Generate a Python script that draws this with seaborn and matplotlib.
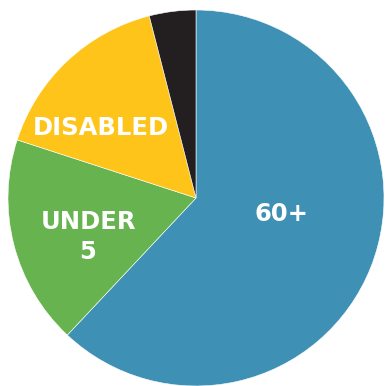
import matplotlib
matplotlib.use("Agg")
import matplotlib.pyplot as plt
import seaborn as sns

# data (shares, clockwise from 12 o'clock)
groups = ["60+", "UNDER\n5", "DISABLED", "OTHER"]
shares = [62, 18, 16, 4]
colors = ["#3f90b5", "#66b34f", "#fec41a", "#231f20"]
label_text = ["60+", "UNDER\n5", "DISABLED", ""]
label_pos = [(0.457, -0.085), (-0.574, -0.207), (-0.505, 0.372), None]

sns.set_style("white")
plt.rcParams['font.family'] = ['DejaVu Sans']

fig = plt.figure(figsize=(3.85, 3.86), dpi=100)
ax = fig.add_axes([0, 0, 1, 1])

ax.pie(shares, colors=colors, startangle=90, counterclock=False, radius=1.0,
       wedgeprops={"edgecolor": "white", "linewidth": 0.4})

for txt, pos in zip(label_text, label_pos):
    if pos is None:
        continue
    ax.text(pos[0], pos[1], txt, color="white", fontsize=17.5, fontweight="bold",
            ha="center", va="center", linespacing=1.3)

# map the circle onto the canvas: centre at (196, 198) px, radius 188 px
r_px = 188.0
ax.set_xlim(-196 / r_px, (385 - 196) / r_px)
ax.set_ylim(-(386 - 198) / r_px, 198 / r_px)
ax.set_aspect("auto")
ax.axis("off")

fig.savefig("out.png", dpi=100, facecolor="white")
plt.close(fig)
